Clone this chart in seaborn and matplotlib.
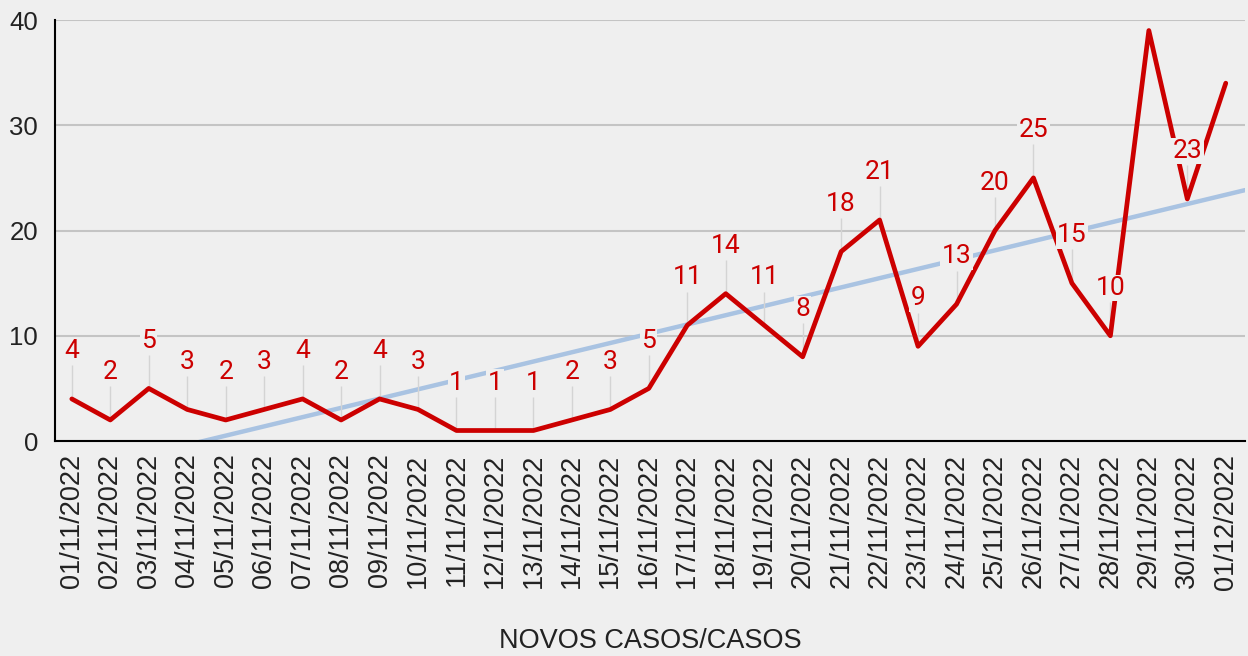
import matplotlib.pyplot as plt
import seaborn as sns
import numpy as np

# dados do grafico
datas = ["01/11/2022", "02/11/2022", "03/11/2022", "04/11/2022", "05/11/2022",
         "06/11/2022", "07/11/2022", "08/11/2022", "09/11/2022", "10/11/2022",
         "11/11/2022", "12/11/2022", "13/11/2022", "14/11/2022", "15/11/2022",
         "16/11/2022", "17/11/2022", "18/11/2022", "19/11/2022", "20/11/2022",
         "21/11/2022", "22/11/2022", "23/11/2022", "24/11/2022", "25/11/2022",
         "26/11/2022", "27/11/2022", "28/11/2022", "29/11/2022", "30/11/2022",
         "01/12/2022"]
casos = [4, 2, 5, 3, 2, 3, 4, 2, 4, 3, 1, 1, 1, 2, 3, 5, 11, 14, 11, 8,
         18, 21, 9, 13, 20, 25, 15, 10, 39, 23, 34]
# rotulos escondidos no original (29/11 e 01/12)
sem_rotulo = ["29/11/2022", "01/12/2022"]

titulo_x = "NOVOS CASOS/CASOS"

FUNDO = "#efefef"
VERMELHO = "#cc0000"

sns.set_style("white")
plt.rcParams["font.family"] = ["Liberation Sans", "DejaVu Sans"]

fig, ax = plt.subplots(figsize=(12.48, 6.56), dpi=100)
fig.patch.set_facecolor(FUNDO)
ax.set_facecolor(FUNDO)
fig.subplots_adjust(left=0.044, right=0.9976, top=0.9695, bottom=0.3277)

x = np.arange(len(casos))
y = np.array(casos)

ax.set_xlim(-0.44, 30.5)
ax.set_ylim(0, 40)

# linha de tendencia
sns.regplot(x=x, y=y, scatter=False, ci=None, truncate=False, color="#a9c3e2",
            line_kws=dict(lw=3.2, zorder=2), ax=ax)

sns.lineplot(x=x, y=y, color=VERMELHO, lw=3.4, ax=ax, zorder=4)

# rotulos com linhas guia
for i, (d, v) in enumerate(zip(datas, casos)):
    if d in sem_rotulo:
        continue
    ax.vlines(i, v, v + 3.2, color="#d4d4d4", lw=1.0, zorder=3)
    ax.text(i, v + 4.55, str(v), ha="center", va="center", fontsize=19,
            color=VERMELHO, family=["Roboto", "DejaVu Sans"], zorder=5,
            bbox=dict(boxstyle="square,pad=0.05", fc=FUNDO, ec="none"))

ax.set_xlim(-0.44, 30.5)
ax.set_ylim(0, 40)
ax.set_yticks([0, 10, 20, 30, 40])
ax.yaxis.grid(True, color="#c4c4c4", lw=1.5)
ax.xaxis.grid(False)
ax.set_axisbelow(True)

ax.set_xticks(x)
ax.set_xticklabels(datas, rotation=90, fontsize=19.5, color="#222222")
ax.tick_params(axis="x", length=0, pad=9)
ax.tick_params(axis="y", length=0, pad=12, labelsize=18.5, labelcolor="#222222")

for s in ["top", "right"]:
    ax.spines[s].set_visible(False)
for s in ["left", "bottom"]:
    ax.spines[s].set_color("black")
    ax.spines[s].set_linewidth(1.5)

ax.set_xlabel(titulo_x, fontsize=19.5, color="#222222", labelpad=28)
ax.set_ylabel("")

plt.savefig("out.png", dpi=100, facecolor=FUNDO)
